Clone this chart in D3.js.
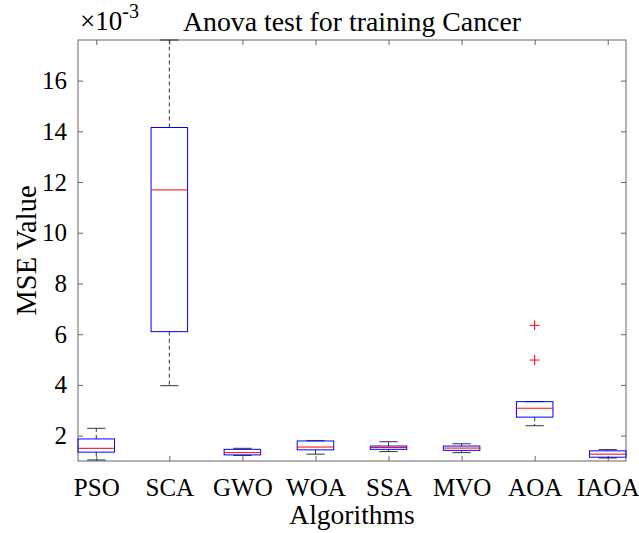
<!DOCTYPE html>
<html>
<head>
<meta charset="utf-8">
<script src="https://cdn.jsdelivr.net/npm/d3@7"></script>
<style>
  html, body { margin: 0; padding: 0; background: #fff; }
  svg { display: block; }
  text { font-family: "Liberation Serif", "Times New Roman", serif; fill: #000; }
</style>
</head>
<body>
<svg id="chart" width="639" height="533"></svg>
<script>
// Box plot summaries, MSE values in units of 1e-3
const categories = ["PSO", "SCA", "GWO", "WOA", "SSA", "MVO", "AOA", "IAOA"];
const whiskerLow  = [1.04, 3.97, 1.22, 1.27, 1.37, 1.33, 2.39, 1.12];
const q1          = [1.35, 6.10, 1.24, 1.44, 1.46, 1.42, 2.73, 1.15];
const median      = [1.50, 11.69, 1.33, 1.55, 1.53, 1.51, 3.08, 1.27];
const q3          = [1.87, 14.15, 1.46, 1.79, 1.59, 1.59, 3.34, 1.40];
const whiskerHigh = [2.29, 17.60, 1.50, 1.80, 1.76, 1.68, 3.34, 1.45];
const outliers    = [[], [], [], [], [], [], [4.98, 6.35], []];
const yTicks = [2, 4, 6, 8, 10, 12, 14, 16];

const svg = d3.select("#chart");
const m = { left: 78, right: 626, top: 40, bottom: 461 };

const x = d3.scaleLinear().domain([0.75, categories.length + 0.25]).range([m.left, m.right]);
const y = d3.scaleLinear().domain([1.0, 17.6]).range([m.bottom, m.top]);

const axisColor = "#666";
const tickLen = 5;

// Plot frame
svg.append("rect")
  .attr("x", m.left).attr("y", m.top)
  .attr("width", m.right - m.left).attr("height", m.bottom - m.top)
  .attr("fill", "none").attr("stroke", axisColor).attr("stroke-width", 1);

// Axes with inward ticks on all four sides
const idx = categories.map((_, i) => i + 1);
const gB = svg.append("g").attr("transform", `translate(0,${m.bottom})`)
  .call(d3.axisBottom(x).tickValues(idx).tickSizeInner(-tickLen).tickSizeOuter(0).tickFormat(d => categories[d - 1]).tickPadding(17));
const gT = svg.append("g").attr("transform", `translate(0,${m.top})`)
  .call(d3.axisTop(x).tickValues(idx).tickSizeInner(-tickLen).tickSizeOuter(0).tickFormat(""));
const gL = svg.append("g").attr("transform", `translate(${m.left},0)`)
  .call(d3.axisLeft(y).tickValues(yTicks).tickSizeInner(-tickLen).tickSizeOuter(0).tickPadding(11));
const gR = svg.append("g").attr("transform", `translate(${m.right},0)`)
  .call(d3.axisRight(y).tickValues(yTicks).tickSizeInner(-tickLen).tickSizeOuter(0).tickFormat(""));

[gB, gT, gL, gR].forEach(g => {
  g.select(".domain").remove();
  g.selectAll(".tick line").attr("stroke", axisColor);
  g.selectAll(".tick text").style("font-family", "'Liberation Serif', serif").style("font-size", "25px").attr("fill", "#000");
});

// Box plots
const halfBox = 0.25, halfCap = 0.125;
const whiskerColor = "#333";
const boxes = svg.append("g").selectAll("g").data(categories).join("g");

boxes.each(function(c, i) {
  const g = d3.select(this);
  const cx = i + 1;
  // whiskers
  [[q3[i], whiskerHigh[i]], [q1[i], whiskerLow[i]]].forEach(([a, b]) => {
    g.append("line")
      .attr("x1", x(cx)).attr("x2", x(cx))
      .attr("y1", y(a)).attr("y2", y(b))
      .attr("stroke", whiskerColor).attr("stroke-width", 1)
      .attr("stroke-dasharray", "4,3");
    g.append("line")
      .attr("x1", x(cx - halfCap)).attr("x2", x(cx + halfCap))
      .attr("y1", y(b)).attr("y2", y(b))
      .attr("stroke", whiskerColor).attr("stroke-width", 1);
  });
  // box
  g.append("rect")
    .attr("x", x(cx - halfBox)).attr("width", x(cx + halfBox) - x(cx - halfBox))
    .attr("y", y(q3[i])).attr("height", y(q1[i]) - y(q3[i]))
    .attr("fill", "none").attr("stroke", "#0000ff").attr("stroke-width", 1);
  // median
  g.append("line")
    .attr("x1", x(cx - halfBox)).attr("x2", x(cx + halfBox))
    .attr("y1", y(median[i])).attr("y2", y(median[i]))
    .attr("stroke", "#ff0000").attr("stroke-width", 1);
  // outliers
  outliers[i].forEach(v => {
    const px = x(cx), py = y(v);
    g.append("path")
      .attr("d", `M${px - 5},${py}H${px + 5}M${px},${py - 5}V${py + 5}`)
      .attr("stroke", "#ff0000").attr("stroke-width", 1).attr("fill", "none");
  });
});

// Title and axis labels
svg.append("text")
  .attr("x", (m.left + m.right) / 2).attr("y", 31)
  .attr("text-anchor", "middle").style("font-size", "27.8px")
  .text("Anova test for training Cancer");

svg.append("text")
  .attr("x", (m.left + m.right) / 2).attr("y", 524)
  .attr("text-anchor", "middle").style("font-size", "27.5px")
  .text("Algorithms");

svg.append("text")
  .attr("transform", `translate(36,${(m.top + m.bottom) / 2}) rotate(-90)`)
  .attr("text-anchor", "middle").style("font-size", "28.5px")
  .text("MSE Value");

// Exponent multiplier above the y axis
const mult = svg.append("text").attr("x", 80).attr("y", 30);
mult.append("tspan").style("font-size", "27px").text("\u00d710");
mult.append("tspan").attr("dy", -12).style("font-size", "20px").text("-3");
</script>
</body>
</html>
